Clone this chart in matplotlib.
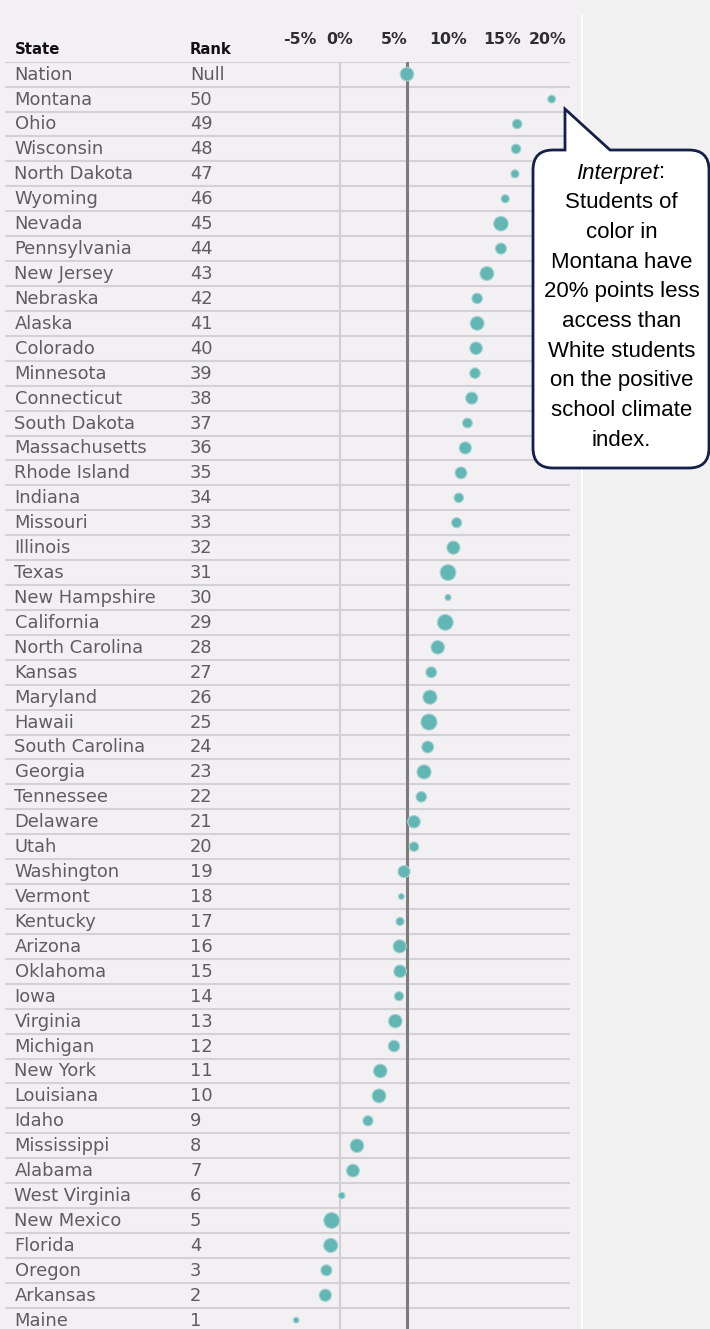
#!/usr/bin/env python3
import matplotlib

matplotlib.use("Agg")
import matplotlib.pyplot as plt
import numpy as np
from matplotlib.patches import PathPatch, Rectangle
from matplotlib.path import Path

# gap in positive school climate access, students of color vs white students
states = ["Nation", "Montana", "Ohio", "Wisconsin", "North Dakota", "Wyoming", "Nevada",
          "Pennsylvania", "New Jersey", "Nebraska", "Alaska", "Colorado", "Minnesota",
          "Connecticut", "South Dakota", "Massachusetts", "Rhode Island", "Indiana",
          "Missouri", "Illinois", "Texas", "New Hampshire", "California", "North Carolina",
          "Kansas", "Maryland", "Hawaii", "South Carolina", "Georgia", "Tennessee",
          "Delaware", "Utah", "Washington", "Vermont", "Kentucky", "Arizona", "Oklahoma",
          "Iowa", "Virginia", "Michigan", "New York", "Louisiana", "Idaho", "Mississippi",
          "Alabama", "West Virginia", "New Mexico", "Florida", "Oregon", "Arkansas", "Maine"]
ranks = ["Null"] + [str(r) for r in range(50, 0, -1)]
gap_pct = [6.2, 19.6, 16.4, 16.3, 16.2, 15.3, 14.9, 14.9, 13.6, 12.7, 12.7, 12.6, 12.5,
           12.2, 11.8, 11.6, 11.2, 11.0, 10.8, 10.5, 10.0, 10.0, 9.75, 9.05, 8.45, 8.33,
           8.24, 8.12, 7.78, 7.53, 6.85, 6.85, 5.93, 5.68, 5.56, 5.53, 5.56, 5.46, 5.12,
           5.0, 3.73, 3.61, 2.59, 1.57, 1.2, 0.16, -0.77, -0.86, -1.26, -1.36, -4.06]
# relative bubble size
dot_size = [14.7, 9, 10.7, 10.7, 9.3, 9.3, 15.7, 12.3, 15, 11.7, 15, 13.7, 11.7, 13.3, 11,
            13.3, 13, 10.7, 11.3, 14.3, 17, 7.3, 17, 14.7, 12, 15.3, 17.3, 13, 15.3, 11.7,
            13.7, 10.7, 13.3, 7, 9.3, 14.3, 13.7, 10.3, 14.7, 12.7, 14.7, 15, 11.3, 14.7,
            14, 7.7, 17, 15.3, 12.2, 13.4, 6.9]
tick_vals = [-5, 0, 5, 10, 15, 20]
tick_labels = ["-5%", "0%", "5%", "10%", "15%", "20%"]
callout_lines = ["Students of", "color in", "Montana have", "20% points less",
                 "access than", "White students", "on the positive", "school climate",
                 "index."]

W, H = 710, 1329
TOP, PITCH = 61.7, 24.92
teal = "#62b6b4"
row_col = "#d2d1d4"
plt.rcParams["font.family"] = ["DejaVu Sans"]


def px_axes(fig, l, t, r, b, **kw):
    # axes placed in pixel coords (origin top-left)
    return fig.add_axes([l / W, 1 - b / H, (r - l) / W, (b - t) / H], **kw)


def row_y(py):
    return -0.5 + (py - TOP) / PITCH


fig = plt.figure(figsize=(W / 100, H / 100), dpi=100, facecolor="#f1f1f1")

# background panel
ax_bg = px_axes(fig, 0, 0, W, H)
ax_bg.set_xlim(0, W)
ax_bg.set_ylim(H, 0)
ax_bg.axis("off")
ax_bg.add_patch(Rectangle((0, 0), 582, H, facecolor="#f2f0f3", edgecolor="none"))
ax_bg.plot([582, 582], [16, H], color="white", lw=1.5)

n = len(states)
y_bottom = row_y(H)

# table part: row lines, names, ranks
ax_tab = px_axes(fig, 5, TOP, 570, H)
ax_tab.set_xlim(5, 570)
ax_tab.set_ylim(y_bottom, -0.5)
ax_tab.axis("off")
for k in range(n + 1):
    ax_tab.axhline(k - 0.5, color=row_col, lw=1.5, zorder=1)
for i, (s, r) in enumerate(zip(states, ranks)):
    ax_tab.text(14.5, i + 0.02, s, fontsize=12.9, color="#5e5e5e", va="center", ha="left")
    ax_tab.text(190, i + 0.02, r, fontsize=12.9, color="#5e5e5e", va="center", ha="left")
ax_tab.text(14.5, row_y(49), "State", fontsize=10.7, fontweight="bold", color="#111111",
            va="center", ha="left")
ax_tab.text(190, row_y(49), "Rank", fontsize=10.7, fontweight="bold", color="#111111",
            va="center", ha="left")

# dot plot
ax = px_axes(fig, 282, TOP, 570, H)
ax.patch.set_alpha(0)
x0, x1 = (282 - 340) / 10.8, (570 - 340) / 10.8
ax.set_xlim(x0, x1)
ax.set_ylim(y_bottom, -0.5)
for sp in ax.spines.values():
    sp.set_visible(False)
ax.set_xticks([])
ax.set_yticks([])
ax.axvline(0, color="#d0d0d0", lw=1.5, zorder=1)
ax.axvline(gap_pct[0], color="#7c7c7c", lw=2.2, zorder=2)
sz = (np.array(dot_size) - 1.2) * 0.72
ax.scatter(gap_pct, np.arange(n), s=sz ** 2, color=teal, edgecolor="#a6d3d2",
           linewidth=0.8, zorder=3)

# axis labels at the top, outer ones kept inside the axis range
for v, lab in zip(tick_vals, tick_labels):
    ha, xv = "center", v
    if v == tick_vals[0]:
        ha, xv = "left", x0 + 0.15
    elif v == tick_vals[-1]:
        ha, xv = "right", x1 - 0.35
    ax.text(xv, row_y(40), lab, fontsize=11.3, fontweight="bold", color="#2e2e2e",
            ha=ha, va="center")

# callout bubble
ax_top = px_axes(fig, 0, 0, W, H)
ax_top.set_xlim(0, W)
ax_top.set_ylim(H, 0)
ax_top.axis("off")
L, R, T, B, rad = 533, 709, 150, 468, 20
tip, base_a, base_b = (565, 109), 565, 610
verts = [tip, (base_b, T), (R - rad, T), (R, T), (R, T + rad), (R, B - rad), (R, B),
         (R - rad, B), (L + rad, B), (L, B), (L, B - rad), (L, T + rad), (L, T),
         (L + rad, T), (base_a, T), tip]
codes = [Path.MOVETO, Path.LINETO, Path.LINETO, Path.CURVE3, Path.CURVE3, Path.LINETO,
         Path.CURVE3, Path.CURVE3, Path.LINETO, Path.CURVE3, Path.CURVE3, Path.LINETO,
         Path.CURVE3, Path.CURVE3, Path.LINETO, Path.CLOSEPOLY]
ax_top.add_patch(PathPatch(Path(verts, codes), facecolor="white", edgecolor="#14204a",
                           lw=2, joinstyle="miter"))
cx = (L + R) / 2 + 0.5
t = ax_top.text(cx - 4, 173, "Interpret", fontsize=16, style="italic",
                family="Liberation Sans", ha="center", va="center", color="black")
ax_top.annotate(":", xy=(1, 0), xycoords=t, fontsize=16, family="Liberation Sans",
                ha="left", va="bottom", color="black")
for k, line in enumerate(callout_lines):
    ax_top.text(cx, 173 + 29.7 * (k + 1), line, fontsize=16, family="Liberation Sans",
                ha="center", va="center", color="black")

fig.savefig("out.png", dpi=100, facecolor=fig.get_facecolor())
